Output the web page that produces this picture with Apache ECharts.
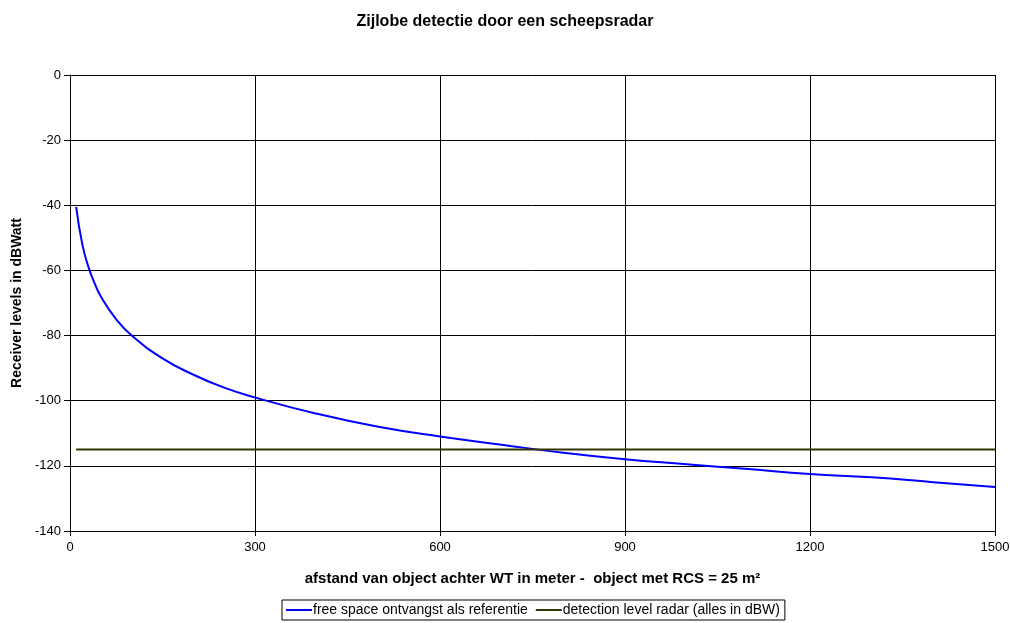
<!DOCTYPE html>
<html>
<head>
<meta charset="utf-8">
<script src="https://cdn.jsdelivr.net/npm/echarts@6/dist/echarts.min.js"></script>
<style>html,body{margin:0;padding:0;background:#fff}#c{width:1010px;height:623px}</style>
</head>
<body>
<div id="c"></div>
<script>
const distances = [10, 20, 30, 40, 50, 75, 100, 150, 200, 250, 300, 400, 500, 600, 700, 800, 900, 1000, 1100, 1200, 1300, 1400, 1500];
const freeSpace = [-40.5, -52, -59, -64, -68, -75, -80, -87, -92, -96, -99, -104, -108, -111, -113.5, -116, -118, -119.5, -121, -122.5, -123.5, -125, -126.5];
const detectionX = [10, 1500];
const detectionLevel = [-115, -115];
const xTicks = [0, 300, 600, 900, 1200, 1500];
const yTicks = [0, -20, -40, -60, -80, -100, -120, -140];

const font = 'Liberation Sans, Arial, sans-serif';
const chart = echarts.init(document.getElementById('c'), null, {renderer: 'canvas'});
chart.setOption({
  animation: false,
  backgroundColor: '#fff',
  title: {
    text: 'Zijlobe detectie door een scheepsradar',
    left: 'center', top: 9,
    textStyle: {fontFamily: font, fontSize: 16, fontWeight: 'bold', color: '#000'}
  },
  grid: {left: 70, right: 15, top: 75, bottom: 92, containLabel: false, outerBoundsMode: 'none'},
  legend: {
    bottom: 3, left: 282,
    itemWidth: 26, itemHeight: 2, itemGap: 8,
    icon: 'rect',
    borderColor: '#000', borderWidth: 1, padding: [3, 5, 3, 4],
    borderRadius: 0,
    textStyle: {fontFamily: font, fontSize: 14, color: '#000', padding: [0,0,0,-4]},
    data: ['free space ontvangst als referentie', 'detection level radar (alles in dBW)']
  },
  xAxis: {
    type: 'value', min: 0, max: 1500, interval: 300,
    name: 'afstand van object achter WT in meter -  object met RCS = 25 m²',
    nameLocation: 'middle', nameGap: 40,
    nameTextStyle: {fontFamily: font, fontSize: 15, fontWeight: 'bold', color: '#000'},
    axisLine: {onZero: false, lineStyle: {color: '#000'}},
    axisTick: {show: true, length: 5, lineStyle: {color: '#000'}},
    axisLabel: {fontFamily: font, fontSize: 13, color: '#000', margin: 10,
      formatter: v => xTicks.includes(v) ? String(v) : ''},
    splitLine: {show: true, lineStyle: {color: '#000', width: 1}}
  },
  yAxis: {
    type: 'value', min: -140, max: 0, interval: 20,
    name: 'Receiver levels in dBWatt',
    nameLocation: 'middle', nameGap: 46, nameRotate: 90,
    nameTextStyle: {fontFamily: font, fontSize: 14, fontWeight: 'bold', color: '#000'},
    axisLine: {show: true, lineStyle: {color: '#000'}},
    axisTick: {show: true, length: 6, lineStyle: {color: '#000'}},
    axisLabel: {fontFamily: font, fontSize: 13, color: '#000', margin: 9,
      formatter: v => yTicks.includes(v) ? String(v) : ''},
    splitLine: {show: true, lineStyle: {color: '#000', width: 1}}
  },
  series: [
    {
      name: 'free space ontvangst als referentie',
      type: 'line', smooth: true, showSymbol: false,
      color: '#0000ff',
      lineStyle: {color: '#0000ff', width: 2},
      data: distances.map((d, i) => [d, freeSpace[i]]),
      z: 3
    },
    {
      name: 'detection level radar (alles in dBW)',
      type: 'line', showSymbol: false,
      color: '#333300',
      lineStyle: {color: '#333300', width: 2},
      data: detectionX.map((d, i) => [d, detectionLevel[i]]),
      z: 4
    }
  ]
});
</script>
</body>
</html>
